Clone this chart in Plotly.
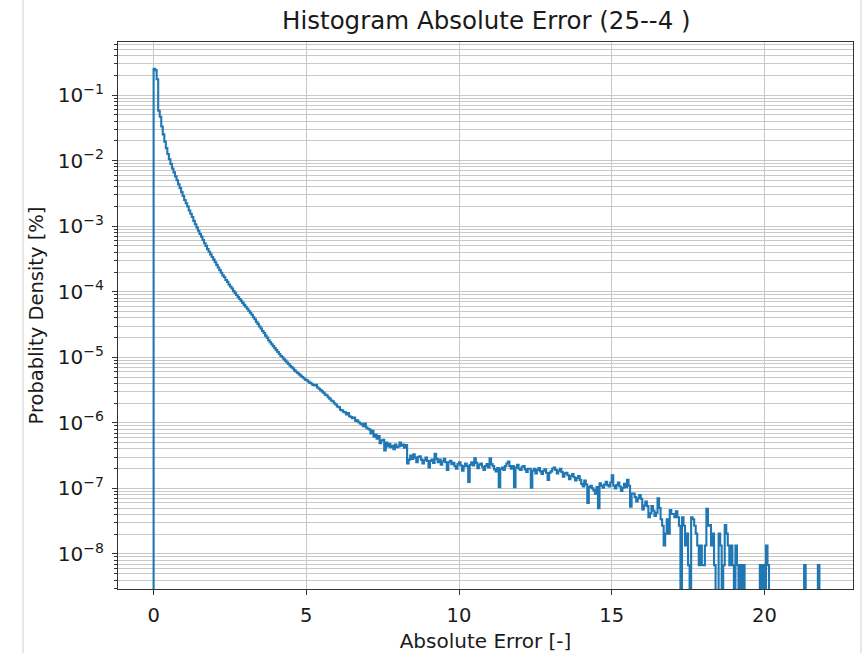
import plotly.graph_objects as go

title_text = "Histogram Absolute Error (25--4 )"
x_label = "Absolute Error [-]"
y_label = "Probablity Density [%]"

# Histogram bins: width 0.05, starting at 0
bin_width = 0.05
# log10 of the probability density of each bin (None = empty bin)
log10_density = [
    -0.60, -0.62, -0.76, -1.24, -1.33, -1.48, -1.60, -1.71, -1.81, -1.90,
    -1.98, -2.05, -2.12, -2.18, -2.24, -2.30, -2.36, -2.42, -2.48, -2.54,
    -2.60, -2.65, -2.70, -2.76, -2.81, -2.86, -2.92, -2.97, -3.02, -3.07,
    -3.12, -3.16, -3.21, -3.26, -3.30, -3.35, -3.39, -3.43, -3.47, -3.51,
    -3.55, -3.59, -3.63, -3.67, -3.71, -3.75, -3.78, -3.82, -3.85, -3.89,
    -3.92, -3.95, -3.99, -4.02, -4.05, -4.08, -4.11, -4.14, -4.17, -4.20,
    -4.23, -4.26, -4.29, -4.32, -4.35, -4.39, -4.42, -4.46, -4.49, -4.53,
    -4.56, -4.60, -4.63, -4.67, -4.70, -4.74, -4.77, -4.80, -4.83, -4.86,
    -4.89, -4.92, -4.95, -4.98, -5.00, -5.03, -5.05, -5.08, -5.10, -5.13,
    -5.15, -5.17, -5.20, -5.22, -5.24, -5.26, -5.28, -5.30, -5.32, -5.34,
    -5.35, -5.37, -5.39, -5.40, -5.42, -5.43, -5.42, -5.46, -5.48, -5.50,
    -5.52, -5.54, -5.57, -5.58, -5.61, -5.63, -5.66, -5.67, -5.70, -5.72,
    -5.75, -5.76, -5.80, -5.81, -5.83, -5.84, -5.87, -5.85, -5.90, -5.91,
    -5.93, -5.92, -5.97, -5.96, -5.99, -6.01, -6.02, -6.05, -6.01, -6.07,
    -6.09, -6.10, -6.16, -6.12, -6.21, -6.18, -6.24, -6.20, -6.31, -6.27,
    -6.26, -6.42, -6.30, -6.36, -6.32, -6.37, -6.35, -6.40, -6.33, -6.37,
    -6.36, -6.30, -6.35, -6.33, -6.38, -6.34, -6.62, -6.56, -6.50, -6.55,
    -6.48, -6.53, -6.60, -6.52, -6.51, -6.56, -6.62, -6.57, -6.53, -6.58,
    -6.68, -6.58, -6.56, -6.61, -6.47, -6.55, -6.60, -6.56, -6.64, -6.59,
    -6.55, -6.60, -6.72, -6.60, -6.58, -6.63, -6.61, -6.66, -6.70, -6.63,
    -6.60, -6.65, -6.73, -6.66, -6.62, -6.66, -6.90, -6.64, -6.60, -6.65,
    -6.54, -6.61, -6.69, -6.64, -6.62, -6.67, -6.72, -6.66, -6.63, -6.68,
    -6.54, -6.63, -6.66, -6.71, -6.74, -6.69, -6.98, -6.70, -6.68, -6.72,
    -6.66, -6.62, -6.59, -6.66, -6.70, -6.66, -6.98, -6.68, -6.64, -6.70,
    -6.72, -6.67, -6.66, -6.71, -6.75, -6.70, -6.70, -6.99, -6.73, -6.70,
    -6.77, -6.72, -6.69, -6.74, -6.78, -6.73, -6.71, -6.76, -6.87, -6.76,
    -6.74, -6.70, -6.68, -6.72, -6.77, -6.73, -6.70, -6.75, -6.82, -6.77,
    -6.76, -6.80, -6.86, -6.81, -6.78, -6.83, -6.88, -6.84, -6.81, -6.87,
    -6.93, -6.97, -6.88, -6.94, -7.22, -6.98, -6.96, -7.00, -7.03, -7.08,
    -6.98, -7.30, -6.92, -6.96, -6.99, -6.94, -6.90, -6.95, -6.97, -6.91,
    -6.80, -6.96, -7.00, -6.95, -6.91, -6.97, -7.04, -6.99, -6.93, -6.98,
    -6.87, -6.96, -7.28, -7.08, -7.08, -7.13, -7.20, -7.15, -7.10, -7.16,
    -7.32, -7.26, -7.20, -7.27, -7.44, -7.38, -7.27, -7.34, -7.42, -7.37,
    -7.15, -7.30, -7.47, -7.57, -7.87, -7.69, -7.47, -7.69, -7.33, -7.39,
    -7.39, -7.44, -7.35, -7.44, -7.57, None, -7.44, -7.57, -7.87, -7.69,
    -8.17, None, -7.44, -7.47, -7.57, -7.69, -7.87, -8.17, -7.87, -8.17,
    -8.17, -7.87, -7.31, -7.57, -7.56, -7.87, -7.69, -8.17, None, None,
    -7.69, -7.87, None, -8.17, -7.56, -7.69, -7.87, -8.17, -7.87, -8.17,
    None, -7.87, -8.17, None, -8.17, None, -8.17, None, None, None,
    None, None, None, None, None, None, None, -8.17, None, -8.17,
    None, -7.87, -8.17, None, None, None, None, None, None, None,
    None, None, None, None, None, None, None, None, None, None,
    None, None, None, None, None, None, -8.17, None, None, None,
    None, None, None, None, None, -8.17,
]

x_tick_values = [0, 5, 10, 15, 20]
y_tick_exponents = [-8, -7, -6, -5, -4, -3, -2, -1]

n_bins = len(log10_density)
bin_edges = [round(i * bin_width, 3) for i in range(n_bins + 1)]

floor_value = 1e-12  # empty bins drop below the visible range
density = [10 ** v if v is not None else floor_value for v in log10_density]

xs = [bin_edges[0]] + bin_edges[:-1] + [bin_edges[-1], bin_edges[-1]]
ys = [floor_value] + density + [density[-1], floor_value]

y_range = [-8.534, -0.191]
x_range = [-1.166, 22.9]

y_major = [10.0 ** e for e in y_tick_exponents]
y_major_text = ["10<sup>\u2212%d</sup>" % (-e) for e in y_tick_exponents]
y_minor = [m * 10.0 ** k for k in range(-9, 1) for m in range(2, 10)
           if 10 ** y_range[0] <= m * 10.0 ** k <= 10 ** y_range[1]]

font_family = "DejaVu Sans"
text_color = "#1a1a1a"
grid_color = "#c8c8c8"
axis_color = "#333333"

fig = go.Figure()
fig.add_trace(go.Scatter(
    x=xs, y=ys, mode="lines",
    line=dict(shape="hv", color="#1f77b4", width=2.1),
    hoverinfo="skip", showlegend=False,
))

fig.update_layout(
    width=864, height=653,
    margin=dict(l=118, r=11, t=42, b=64),
    paper_bgcolor="white", plot_bgcolor="white",
    font=dict(family=font_family, color=text_color, size=20),
    title=dict(text=title_text, x=0.5629, xanchor="center",
               y=1 - 20 / 653, yanchor="middle", yref="container",
               font=dict(size=24.5, family=font_family, color=text_color)),
    showlegend=False,
)

fig.update_xaxes(
    range=x_range, tickmode="array", tickvals=x_tick_values,
    ticks="outside", ticklen=5, tickwidth=1.3, tickcolor=axis_color,
    showline=True, linecolor=axis_color, linewidth=1.4, mirror=True,
    showgrid=True, gridcolor=grid_color, gridwidth=1.2, zeroline=False,
    tickfont=dict(size=19.5, family=font_family, color=text_color),
    ticklabelstandoff=3,
    title=dict(text=x_label, standoff=9,
               font=dict(size=20, family=font_family, color=text_color)),
    automargin=False,
)

fig.update_yaxes(
    type="log", range=y_range, tickmode="array",
    tickvals=y_major, ticktext=y_major_text,
    ticks="outside", ticklen=5, tickwidth=1.3, tickcolor=axis_color,
    showline=True, linecolor=axis_color, linewidth=1.4, mirror=True,
    showgrid=True, gridcolor=grid_color, gridwidth=1.2, zeroline=False,
    minor=dict(tickmode="array", tickvals=y_minor, ticks="outside",
               ticklen=3, tickwidth=1, tickcolor=axis_color,
               showgrid=True, gridcolor=grid_color, gridwidth=1.1),
    tickfont=dict(size=20, family=font_family, color=text_color),
    ticklabelstandoff=4,
    title=dict(text=y_label, standoff=8,
               font=dict(size=19.5, family=font_family, color=text_color)),
    automargin=False,
)

# thin frame lines of the original screenshot
for px in (23, 861):
    fig.add_shape(type="line", xref="paper", yref="paper",
                  x0=(px - 118) / 735, x1=(px - 118) / 735,
                  y0=-64 / 547, y1=(547 + 42) / 547,
                  line=dict(color="#cfcfcf", width=1))

fig.write_html("out.html")
